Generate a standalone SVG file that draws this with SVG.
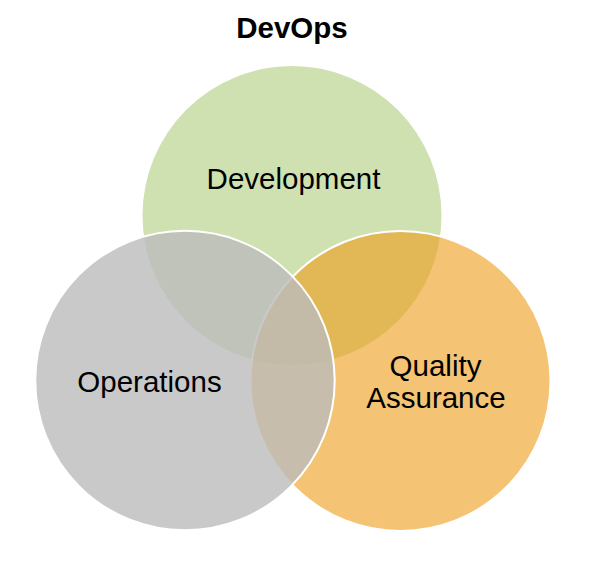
<svg xmlns="http://www.w3.org/2000/svg" width="594" height="562" viewBox="0 0 594 562">
  <style>
    .lbl { font-family: "Liberation Sans", Arial, sans-serif; font-size: 29.5px; fill: #000; text-anchor: middle; }
    .title { font-family: "Liberation Sans", Arial, sans-serif; font-size: 29.5px; font-weight: bold; fill: #000; text-anchor: middle; }
    .ring { stroke: #fff; stroke-width: 2; }
  </style>
  <rect width="594" height="562" fill="#fff"/>
  <text id="title" class="title" x="292" y="38">DevOps</text>
  <g id="development">
    <circle cx="292" cy="215.5" r="149.5" fill="#CFE1B0"/>
    <text class="lbl" x="293.5" y="189">Development</text>
  </g>
  <g id="quality-assurance">
    <circle class="ring" cx="400.5" cy="381" r="150" fill="#EEA021" fill-opacity="0.63"/>
    <text class="lbl" x="435.5" y="376">Quality</text>
    <text class="lbl" x="436" y="408">Assurance</text>
  </g>
  <g id="operations">
    <circle class="ring" cx="185" cy="380.5" r="149.7" fill="#BCBCBC" fill-opacity="0.8"/>
    <text class="lbl" x="149.5" y="392">Operations</text>
  </g>
  <g id="connectors"/>
</svg>
